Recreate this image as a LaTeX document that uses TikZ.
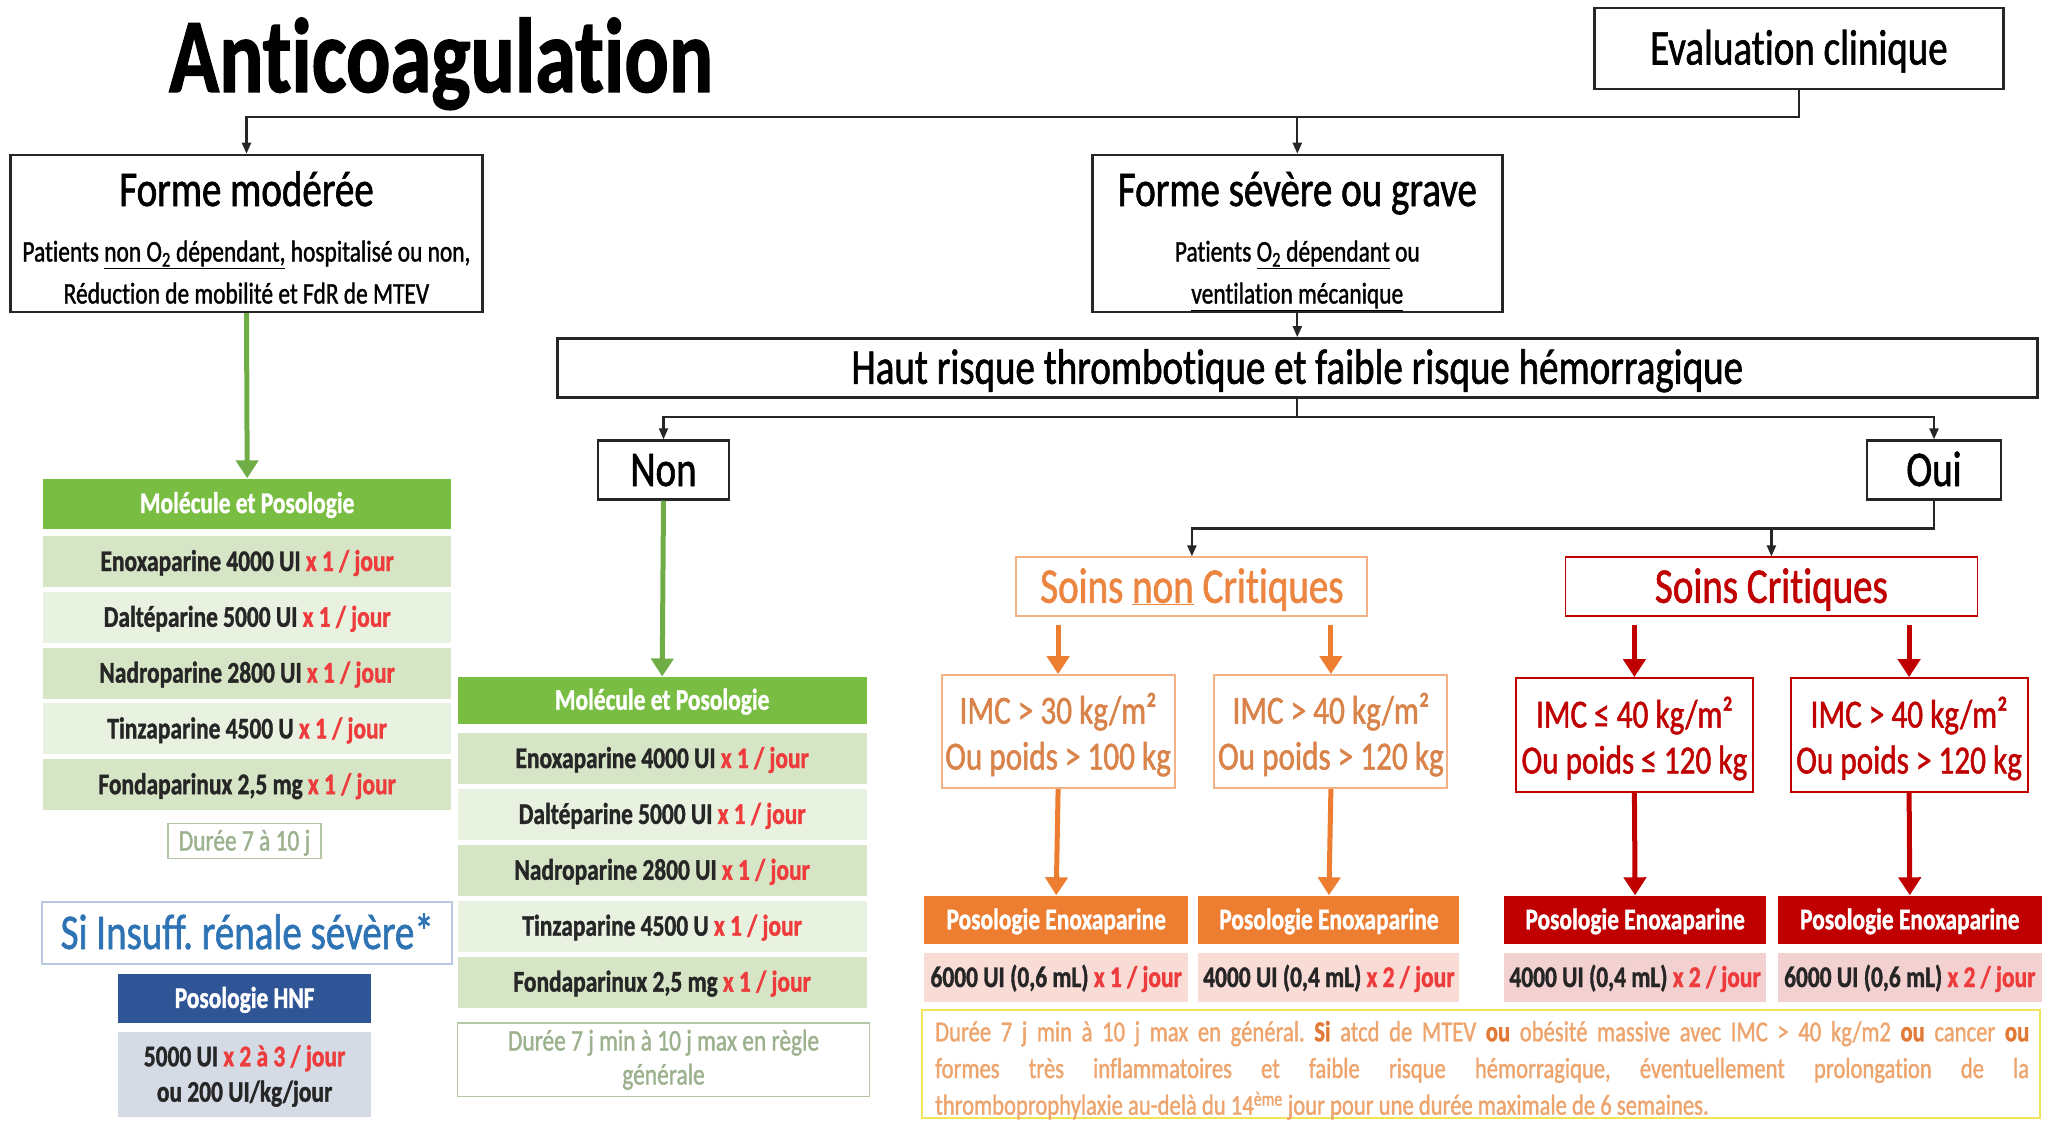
\documentclass[tikz,border=0pt]{standalone}
\usepackage{fontspec}
\setmainfont{Carlito}[FakeStretch=0.78, FakeBold=1.2, Ligatures=NoCommon]
\usetikzlibrary{arrows.meta}

\definecolor{ink}{HTML}{262626}
\definecolor{grnH}{HTML}{79BD42}
\definecolor{grnA}{HTML}{70AD47}
\definecolor{rowD}{HTML}{D5E5C6}
\definecolor{rowL}{HTML}{E9F1E0}
\definecolor{durT}{HTML}{9CB18E}
\definecolor{durB}{HTML}{B3C6A6}
\definecolor{blueT}{HTML}{2E74B5}
\definecolor{blueB}{HTML}{B9C9E0}
\definecolor{hnfH}{HTML}{2F5597}
\definecolor{hnfB}{HTML}{D5DBE5}
\definecolor{org}{HTML}{ED7D31}
\definecolor{orgT}{HTML}{EC8540}
\definecolor{imcT}{HTML}{D9834A}
\definecolor{orgB}{HTML}{F4B183}
\definecolor{pinkO}{HTML}{F9DCD6}
\definecolor{crit}{HTML}{C00000}
\definecolor{pinkR}{HTML}{F4D1D1}
\definecolor{txtRed}{HTML}{EE3B3B}
\definecolor{noteB}{HTML}{F2E35C}
\definecolor{noteT}{HTML}{EDA46D}
\definecolor{noteD}{HTML}{E07A36}

\newcommand\fsz[1]{\fontsize{#1}{#1}\selectfont}
\frenchspacing

\begin{document}
\begin{tikzpicture}[x=1pt,y=-1pt,
  blk/.style={draw=ink, line width=2.4pt, fill=white, inner sep=0pt},
  t50/.style={font=\fsz{50}, text height=32pt, text depth=0pt, inner sep=0pt},
  t40/.style={font=\fsz{40}, text height=26pt, text depth=0pt, inner sep=0pt},
  t30/.style={font=\fsz{30}, text height=19pt, text depth=0pt, inner sep=0pt},
  hdr/.style={font=\bfseries\fsz{30}, text height=19pt, text depth=0pt, inner sep=0pt, text=white},
  rowcell/.style={font=\bfseries\fsz{30}, text height=19pt, text depth=0pt, inner sep=0pt,
    text=ink, minimum width=408pt, minimum height=51pt},
  dose/.style={font=\bfseries\fsz{30}, text height=19pt, text depth=0pt, inner sep=0pt,
    text=ink, minimum height=48.5pt},
  conn/.style={draw=ink, line width=2.2pt, -{Triangle[width=9pt,length=11pt]}},
  garr/.style={draw=grnA, line width=5pt, -{Triangle[width=22pt,length=18pt]}},
  oarr/.style={draw=org, line width=5pt, -{Triangle[width=22pt,length=18pt]}},
  rarr/.style={draw=crit, line width=5pt, -{Triangle[width=22pt,length=18pt]}},
  imco/.style={draw=orgB, line width=2pt, fill=white, minimum width=233pt, minimum height=113pt},
  imcr/.style={draw=crit, line width=1.8pt, fill=white, minimum width=237pt, minimum height=114pt}]

\fill[white] (0,0) rectangle (2056,1121);
\useasboundingbox (0,0) rectangle (2056,1121);

% ---------- title and first level ----------
\node[anchor=base, font=\bfseries\fsz{106}, inner sep=0pt] (title) at (441,92) {Anticoagulation};

\node[blk, t50, minimum width=409pt, minimum height=81pt] (eval) at (1799,48.5) {Evaluation clinique};

\node[blk, minimum width=472pt, minimum height=157pt] (modere) at (246.5,233.4) {};
\node[t50] (modereT) at (246.5,190) {Forme modérée};
\node[t30] (modereA) at (246.5,252) {Patients \underline{non O\textsubscript{2} dépendant,} hospitalisé ou non,};
\node[t30] (modereB) at (246.5,294) {Réduction de mobilité et FdR de MTEV};

\node[blk, minimum width=410pt, minimum height=157pt] (severe) at (1297.3,233.4) {};
\node[t50] (severeT) at (1297.3,190) {Forme sévère ou grave};
\node[t30] (severeA) at (1297.3,252) {Patients \underline{O\textsubscript{2} dépendant} ou};
\node[t30] (severeB) at (1297.3,294) {\underline{ventilation mécanique}};

\coordinate (bar1) at (1799,116.7);
\draw[conn] (eval.south) -- (bar1) -| (modere.north);
\draw[conn] (severe.north |- bar1) -- (severe.north);

% ---------- risk level ----------
\node[blk, t50, minimum width=1480pt, minimum height=59pt] (haut) at (1297.3,367.8)
  {Haut risque thrombotique et faible risque hémorragique};
\draw[conn] (severe.south) -- (haut.north);

\node[blk, t50, minimum width=131pt, minimum height=59pt] (non) at (663.5,470) {Non};
\node[blk, t50, minimum width=134pt, minimum height=59pt] (oui) at (1934,470) {Oui};

\coordinate (bar2) at (1297.3,417);
\draw[conn] (haut.south) -- (bar2) -| (non.north);
\draw[conn] (bar2) -| (oui.north);

% ---------- moderate form: molecules ----------
\node[hdr, fill=grnH, minimum width=408pt, minimum height=50pt] (hdL) at (247.2,503.5) {Molécule et Posologie};
\node[rowcell, fill=rowD] (l1) at (247.2,561.5) {Enoxaparine 4000 UI \textcolor{txtRed}{x 1 / jour}};
\node[rowcell, fill=rowL] (l2) at (247.2,617.3) {Daltéparine 5000 UI \textcolor{txtRed}{x 1 / jour}};
\node[rowcell, fill=rowD] (l3) at (247.2,673.1) {Nadroparine 2800 UI \textcolor{txtRed}{x 1 / jour}};
\node[rowcell, fill=rowL] (l4) at (247.2,728.9) {Tinzaparine 4500 U \textcolor{txtRed}{x 1 / jour}};
\node[rowcell, fill=rowD] (l5) at (247.2,784.7) {Fondaparinux 2,5 mg \textcolor{txtRed}{x 1 / jour}};
\draw[garr] (modere.south) -- (hdL.north);

\node[t30, draw=durB, line width=1.5pt, text=durT, minimum width=153pt, minimum height=35pt] (durL) at (244.5,841) {Durée 7 à 10 j};

\node[t50, draw=blueB, line width=1.5pt, text=blueT, minimum width=410pt, minimum height=62pt] (renal) at (247.2,933) {Si Insuff. rénale sévère*};
\node[hdr, fill=hnfH, minimum width=253pt, minimum height=48.5pt] (hnfH) at (244.6,998.4) {Posologie HNF};
\node[fill=hnfB, minimum width=253pt, minimum height=85pt, inner sep=0pt] (hnfB) at (244.6,1074.5) {};
\node[t30, font=\bfseries\fsz{30}, text=ink] (hnf1) at (244.6,1056.8) {5000 UI \textcolor{txtRed}{x 2 à 3 / jour}};
\node[t30, font=\bfseries\fsz{30}, text=ink] (hnf2) at (244.6,1092.2) {ou 200 UI/kg/jour};

% ---------- "Non" branch: molecules ----------
\node[hdr, fill=grnH, minimum width=409pt, minimum height=47pt] (hdM) at (662.2,700.2) {Molécule et Posologie};
\node[rowcell, fill=rowD, minimum width=409pt] (m1) at (662.2,758.5) {Enoxaparine 4000 UI \textcolor{txtRed}{x 1 / jour}};
\node[rowcell, fill=rowL, minimum width=409pt] (m2) at (662.2,814.4) {Daltéparine 5000 UI \textcolor{txtRed}{x 1 / jour}};
\node[rowcell, fill=rowD, minimum width=409pt] (m3) at (662.2,870.3) {Nadroparine 2800 UI \textcolor{txtRed}{x 1 / jour}};
\node[rowcell, fill=rowL, minimum width=409pt] (m4) at (662.2,926.2) {Tinzaparine 4500 U \textcolor{txtRed}{x 1 / jour}};
\node[rowcell, fill=rowD, minimum width=409pt] (m5) at (662.2,982.1) {Fondaparinux 2,5 mg \textcolor{txtRed}{x 1 / jour}};
\draw[garr] (non.south) -- (hdM.north);

\node[draw=durB, line width=1.5pt, minimum width=412pt, minimum height=73.5pt, inner sep=0pt] (durM) at (663.5,1059.5) {};
\node[t30, text=durT] (durM1) at (663.5,1041) {Durée 7 j min à 10 j max en règle};
\node[t30, text=durT] (durM2) at (663.5,1075) {générale};

% ---------- "Oui" branch ----------
\node[t50, draw=orgB, line width=2pt, text=orgT, minimum width=351pt, minimum height=59pt] (snc) at (1191.9,586.8) {Soins \underline{non} Critiques};
\node[t50, draw=crit, line width=1.8pt, text=crit, minimum width=412pt, minimum height=59pt] (sc) at (1771.4,586.8) {Soins Critiques};

\coordinate (bar3) at (1934,528.4);
\draw[conn] (oui.south) -- (bar3) -| (snc.north);
\draw[conn] (sc.north |- bar3) -- (sc.north);

\node[imco] (imcA) at (1058.1,731.6) {};
\node[t40, text=imcT] (imcA1) at (1058.1,710.7) {IMC > 30 kg/m²};
\node[t40, text=imcT] (imcA2) at (1058.1,756.6) {Ou poids > 100 kg};
\node[imco] (imcB) at (1330.9,731.6) {};
\node[t40, text=imcT] (imcB1) at (1330.9,710.7) {IMC > 40 kg/m²};
\node[t40, text=imcT] (imcB2) at (1330.9,756.6) {Ou poids > 120 kg};
\node[imcr] (imcC) at (1634.4,735) {};
\node[t40, text=crit] (imcC1) at (1634.4,714.6) {IMC ≤ 40 kg/m²};
\node[t40, text=crit] (imcC2) at (1634.4,760.5) {Ou poids ≤ 120 kg};
\node[imcr] (imcD) at (1909.1,735) {};
\node[t40, text=crit] (imcD1) at (1909.1,714.6) {IMC > 40 kg/m²};
\node[t40, text=crit] (imcD2) at (1909.1,760.5) {Ou poids > 120 kg};

\node[hdr, fill=org, minimum width=263.6pt, minimum height=48.6pt] (hdA) at (1056.2,919.8) {Posologie Enoxaparine};
\node[hdr, fill=org, minimum width=261pt, minimum height=48.6pt] (hdB) at (1328.9,919.8) {Posologie Enoxaparine};
\node[hdr, fill=crit, minimum width=262pt, minimum height=48.6pt] (hdC) at (1635.1,919.8) {Posologie Enoxaparine};
\node[hdr, fill=crit, minimum width=263.5pt, minimum height=48.6pt] (hdD) at (1909.8,919.8) {Posologie Enoxaparine};

\node[dose, fill=pinkO, minimum width=263.6pt] (dA) at (1056.2,977.5) {6000 UI (0,6 mL) \textcolor{txtRed}{x 1 / jour}};
\node[dose, fill=pinkO, minimum width=261pt] (dB) at (1328.9,977.5) {4000 UI (0,4 mL) \textcolor{txtRed}{x 2 / jour}};
\node[dose, fill=pinkR, minimum width=262pt] (dC) at (1635.1,977.5) {4000 UI (0,4 mL) \textcolor{txtRed}{x 2 / jour}};
\node[dose, fill=pinkR, minimum width=263.5pt] (dD) at (1909.8,977.5) {6000 UI (0,6 mL) \textcolor{txtRed}{x 2 / jour}};

\draw[oarr, shorten <=8pt] (imcA.north |- snc.south) -- (imcA.north);
\draw[oarr, shorten <=8pt] (imcB.north |- snc.south) -- (imcB.north);
\draw[oarr] (imcA.south) -- (hdA.north);
\draw[oarr] (imcB.south) -- (hdB.north);
\draw[rarr, shorten <=8pt] (imcC.north |- sc.south) -- (imcC.north);
\draw[rarr, shorten <=8pt] (imcD.north |- sc.south) -- (imcD.north);
\draw[rarr] (imcC.south) -- (hdC.north);
\draw[rarr] (imcD.south) -- (hdD.north);

% ---------- duration note ----------
\node[draw=noteB, line width=2.5pt, minimum width=1118pt, minimum height=108pt, inner sep=0pt] (note) at (1481,1064) {};
\node[anchor=base west, inner sep=0pt, text=noteT] (noteTxt) at (935,1041.3)
  {\parbox[t]{1094pt}{\fontsize{29}{36.7}\selectfont
  Durée 7 j min à 10 j max en général. \textcolor{noteD}{\bfseries Si} atcd de MTEV \textcolor{noteD}{\bfseries ou} obésité massive avec IMC > 40 kg/m2 \textcolor{noteD}{\bfseries ou} cancer \textcolor{noteD}{\bfseries ou}\linebreak
  formes très inflammatoires et faible risque hémorragique, éventuellement prolongation de la\linebreak
  thromboprophylaxie au-delà du 14\textsuperscript{ème} jour pour une durée maximale de 6 semaines.}};

\end{tikzpicture}
\end{document}
